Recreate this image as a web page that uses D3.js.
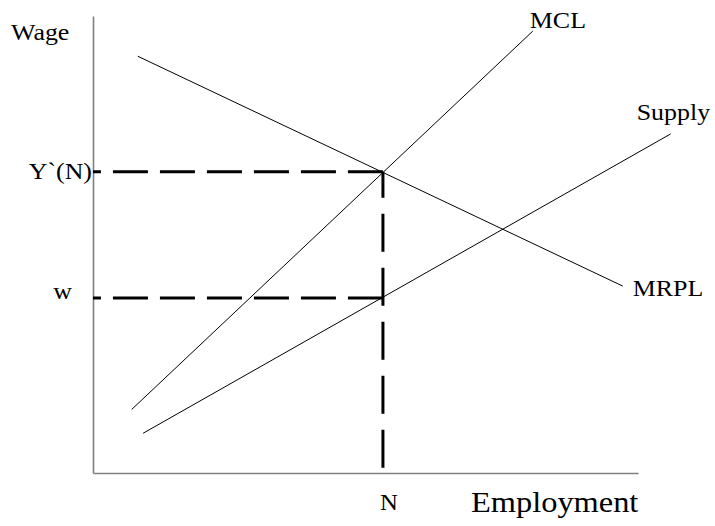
<!DOCTYPE html>
<html>
<head>
<meta charset="utf-8">
<script src="https://cdn.jsdelivr.net/npm/d3@7"></script>
<style>
  html, body { margin: 0; padding: 0; background: #fff; }
  svg { display: block; }
  text { font-family: "Liberation Serif", "Times New Roman", serif; fill: #000; }
</style>
</head>
<body>
<svg id="chart" width="715" height="526"></svg>
<script>
// ---- data (in chart units: employment 0-100, wage 0-100) ----
const curveNames = ["MRPL", "MCL", "Supply"];
const curveX1 = [8.2, 7.1, 9.2];
const curveY1 = [91.2, 13.9, 8.7];
const curveX2 = [97.2, 80.7, 106.0];
const curveY2 = [40.9, 96.7, 74.2];

const levelNames = ["Y`(N)", "w"];
const levelValues = [65.9, 38.3];

const employmentLabel = "N";
const employmentValue = 53.2;

const xTitle = "Employment";
const yTitle = "Wage";

// ---- layout ----
const svg = d3.select("#chart");
const x = d3.scaleLinear().domain([0, 100]).range([93, 638]);
const y = d3.scaleLinear().domain([0, 100]).range([473, 16]);
const stretch = 1.08;

// axes (no ticks)
svg.append("g").attr("transform", `translate(0,${y(0)})`)
  .call(d3.axisBottom(x).tickValues([]).tickSizeOuter(0));
svg.append("g").attr("transform", `translate(${x(0)},0)`)
  .call(d3.axisLeft(y).tickValues([]).tickSizeOuter(0));
svg.selectAll(".domain").attr("stroke", "#808080").attr("stroke-width", 1.6);

// curves
const curves = curveNames.map((n, i) => ({
  name: n,
  pts: [[curveX1[i], curveY1[i]], [curveX2[i], curveY2[i]]]
}));
const line = d3.line().x(d => x(d[0])).y(d => y(d[1]));
svg.append("g").selectAll("path").data(curves).join("path")
  .attr("d", d => line(d.pts))
  .attr("fill", "none").attr("stroke", "#000").attr("stroke-width", 1);

// dashed guides (drawn from the intersection toward the axes)
svg.append("g").selectAll("path").data(levelValues).join("path")
  .attr("d", v => line([[employmentValue, v], [0, v]]))
  .attr("fill", "none").attr("stroke", "#000").attr("stroke-width", 3)
  .attr("stroke-dasharray", "35,12");
svg.append("path")
  .attr("d", line([[employmentValue, d3.max(levelValues)], [employmentValue, -0.5]]))
  .attr("fill", "none").attr("stroke", "#000").attr("stroke-width", 3)
  .attr("stroke-dasharray", "38,16").attr("stroke-dashoffset", 12);

// text helper
function label(txt, px, py, size, anchor) {
  svg.append("text")
    .attr("transform", `translate(${px},${py}) scale(${stretch},1)`)
    .attr("text-anchor", anchor || "start")
    .style("font-size", size + "px")
    .text(txt);
}

// axis titles
label(yTitle, 11, 40, 24);
label(xTitle, 471, 512, 30);

// level labels
label(levelNames[0], x(0) - 1, y(levelValues[0]) + 7, 24, "end");
label(levelNames[1], x(0) - 21, y(levelValues[1]) + 1, 24, "end");

// employment label
label(employmentLabel, x(employmentValue) + 6, 510, 23, "middle");

// curve labels
const cl = {
  MCL: [x(curveX2[1]) - 3, 28],
  Supply: [x(curveX2[2]) - 34, 120],
  MRPL: [x(curveX2[0]) + 10, 296]
};
curveNames.forEach(n => label(n, cl[n][0], cl[n][1], 24));
</script>
</body>
</html>
